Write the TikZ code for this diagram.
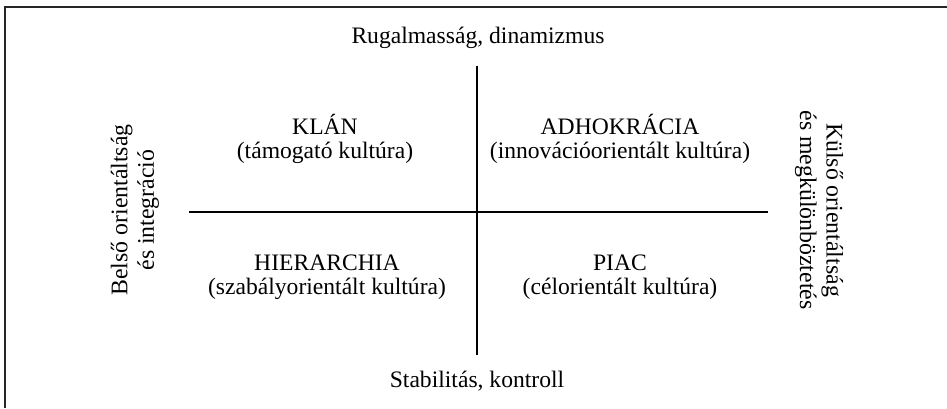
\documentclass[tikz,border=0pt]{standalone}
\usepackage{fontspec}
\setmainfont{Liberation Serif}
\begin{document}
\begin{tikzpicture}[x=1pt,y=-1pt,
  lbl/.style={font=\fontsize{23.6}{24}\selectfont, inner sep=0pt, align=center},
  sidelbl/.style={lbl, font=\fontsize{23.8}{26.5}\selectfont},
  axis/.style={line width=1.3pt},
  frame/.style={line width=1.5pt, draw=black!85}]
\useasboundingbox (0,0) rectangle (947,408);

% outer frame (only its left and top edges fall inside the page)
\coordinate (fbl) at (5,408);
\coordinate (ftl) at (5,7);
\coordinate (ftr) at (947,7);
\draw[frame] (fbl) -- (ftl) -- (ftr);

% the two axes
\coordinate (vtop) at (477,66);
\coordinate (vbot) at (477,355);
\coordinate (hl) at (189,212);
\coordinate (hr) at (768,212);
\draw[axis] (vtop) -- (vbot);
\draw[axis] (hl) -- (hr);

% axis captions
\node[lbl, anchor=base] (flex) at (478,43) {Rugalmasság, dinamizmus};
\node[lbl, anchor=base] (stab) at (477,387) {Stabilitás, kontroll};
\node[sidelbl, rotate=90] (inner) at (135,210) {Belső orientáltság\\és integráció};
\node[sidelbl, rotate=-90] (outer) at (819,210) {Külső orientáltság\\és megkülönböztetés};

% quadrants
\node[lbl, anchor=base] (klan) at (325,158) {KLÁN\\(támogató kultúra)};
\node[lbl, anchor=base] (adho) at (620,158) {ADHOKRÁCIA\\(innovációorientált kultúra)};
\node[lbl, anchor=base] (hier) at (327,294) {HIERARCHIA\\(szabályorientált kultúra)};
\node[lbl, anchor=base] (piac) at (620,294) {PIAC\\(célorientált kultúra)};
\end{tikzpicture}
\end{document}
